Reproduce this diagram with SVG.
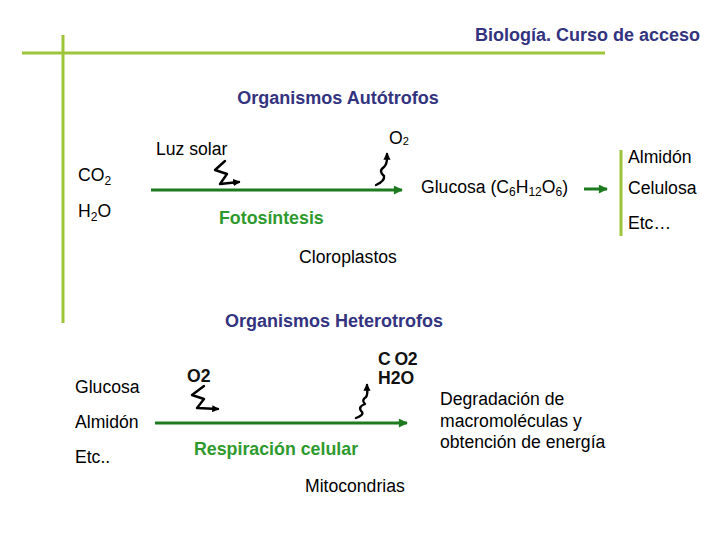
<svg xmlns="http://www.w3.org/2000/svg" width="720" height="540" viewBox="0 0 720 540">
<style>
text{font-family:"Liberation Sans",Arial,sans-serif;fill:#000;font-size:17.6px}
.t{font-weight:bold;fill:#333380;font-size:18px}
.g{font-weight:bold;fill:#2E9A2E;font-size:17.8px}
.sm{font-size:12px}
.lb{font-weight:bold;fill:#111}
.bar{stroke:#9DC53A;stroke-width:3}
.arr{stroke:#1E7A1E;stroke-width:3;fill:none}
.sq{stroke:#000;stroke-width:2.4;fill:none;stroke-linejoin:round;stroke-linecap:round}
</style>
<defs>
<marker id="ga" viewBox="0 0 10 10" refX="9" refY="5" markerWidth="4" markerHeight="3" orient="auto" markerUnits="strokeWidth"><path d="M0,0 L10,5 L0,10 z" fill="#1E7A1E"/></marker>
<marker id="ka" viewBox="0 0 10 10" refX="8" refY="5" markerWidth="3" markerHeight="3" orient="auto" markerUnits="strokeWidth"><path d="M0,0 L10,5 L0,10 z" fill="#000"/></marker>
</defs>
<g id="frame">
<line class="bar" x1="22" y1="53" x2="605" y2="53"/>
<line class="bar" x1="63" y1="35" x2="63" y2="323"/>
<line class="bar" x1="621" y1="150" x2="621" y2="236"/>
</g>
<g id="header"><text class="t" x="700" y="41" text-anchor="end">Biología. Curso de acceso</text></g>
<g id="autotrofos">
<text class="t" x="338" y="104" text-anchor="middle">Organismos Autótrofos</text>
<text x="156" y="155">Luz solar</text>
<text x="389" y="144" font-size="16">O<tspan font-size="11" dy="1">2</tspan></text>
<text x="78" y="181">CO<tspan class="sm" dy="4">2</tspan></text>
<text x="78" y="217">H<tspan class="sm" dy="4">2</tspan><tspan dy="-4">O</tspan></text>
<text x="421" y="193">Glucosa (C<tspan class="sm" dy="3">6</tspan><tspan dy="-3">H</tspan><tspan class="sm" dy="3">12</tspan><tspan dy="-3">O</tspan><tspan class="sm" dy="3">6</tspan><tspan dy="-3">)</tspan></text>
<text x="628" y="163">Almidón</text>
<text x="628" y="194">Celulosa</text>
<text x="628" y="229">Etc…</text>
<text class="g" x="219" y="224">Fotosíntesis</text>
<text x="348" y="263" text-anchor="middle">Cloroplastos</text>
</g>
<g id="heterotrofos">
<text class="t" x="334" y="327" text-anchor="middle">Organismos Heterotrofos</text>
<text class="lb" x="187" y="382" font-size="14.5">O2</text>
<text class="lb" x="378" y="365" font-size="13.5" letter-spacing="-0.5">C O2</text>
<text class="lb" x="378" y="384" font-size="13.5">H2O</text>
<text x="75" y="393">Glucosa</text>
<text x="75" y="428">Almidón</text>
<text x="75" y="463">Etc..</text>
<text class="g" x="194" y="455">Respiración celular</text>
<text x="305" y="492">Mitocondrias</text>
<text x="440" y="405">Degradación de</text>
<text x="440" y="427">macromoléculas y</text>
<text x="440" y="448">obtención de energía</text>
</g>
<g id="connectors">
<line class="arr" x1="151" y1="190" x2="402" y2="190" marker-end="url(#ga)"/>
<line class="arr" x1="584" y1="189" x2="607" y2="189" marker-end="url(#ga)"/>
<line class="arr" x1="155" y1="423" x2="407" y2="423" marker-end="url(#ga)"/>
<path class="sq" d="M225,161 L215,170 L227,174 L220,184 L239,182" marker-end="url(#ka)"/>
<path class="sq" d="M376,185 Q385,181 384,176 Q378,171 384,167 Q387,164 387,158 L387,154" marker-end="url(#ka)"/>
<path class="sq" d="M204,386 L192,395 L204,399 L197,408 L218,409" marker-end="url(#ka)"/>
<path class="sq" d="M356,418 Q364,415 362,412 Q357,407 365,404 Q361,400 366,397 Q368,394 367,388 L367,385" marker-end="url(#ka)"/>
</g>
</svg>
